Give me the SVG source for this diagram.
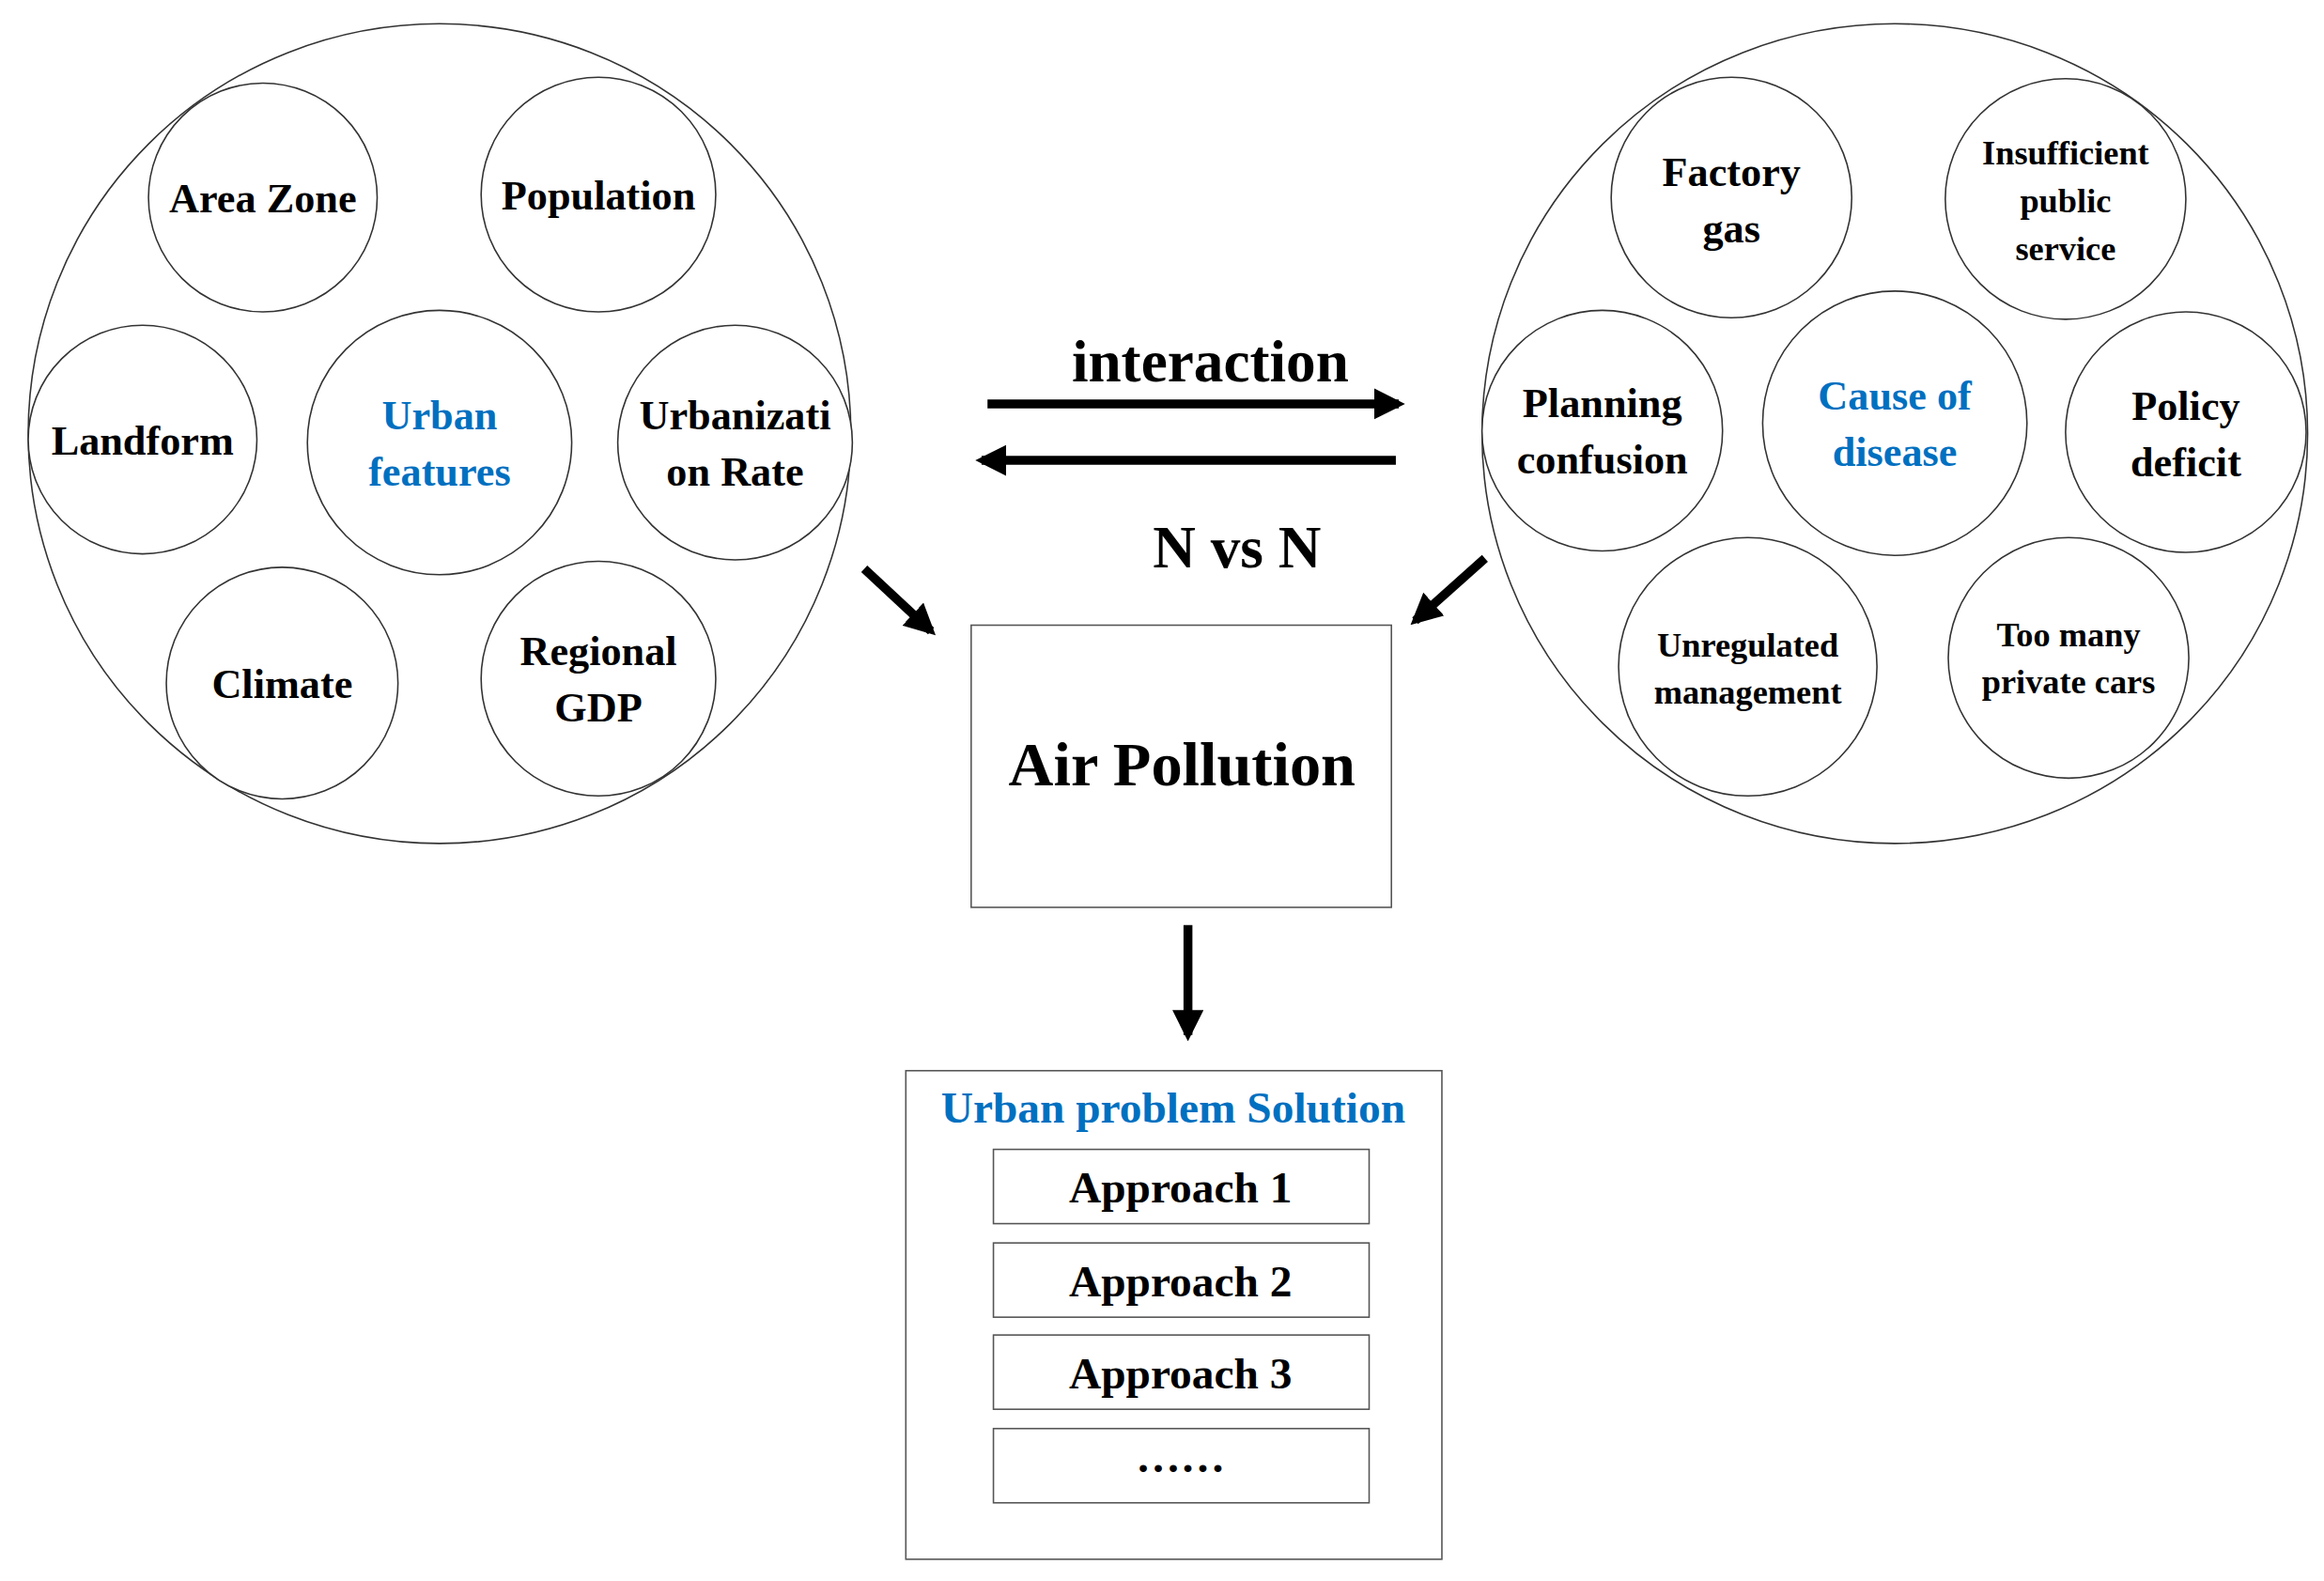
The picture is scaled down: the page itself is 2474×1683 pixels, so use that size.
<svg xmlns="http://www.w3.org/2000/svg" width="2474" height="1683" viewBox="0 0 2474 1683">
<style>
.c{fill:#fff;stroke:#333;stroke-width:1}
.t{font-family:"Liberation Serif",serif;font-weight:bold;fill:#000;text-anchor:middle}
.b{fill:#0070C0}
.a{stroke:#000;stroke-width:6;fill:none}
.r{fill:#fff;stroke:#555;stroke-width:1}
</style>
<defs><marker id="h" viewBox="0 0 10 10" refX="8" refY="5" markerWidth="3.5" markerHeight="3.5" orient="auto"><path d="M0,0L10,5L0,10z" fill="#000"/></marker></defs>
<rect width="2474" height="1683" fill="#fff"/>
<g transform="scale(1.5808)">
<g id="left">
<ellipse class="c" cx="296" cy="292" rx="277" ry="276"/>
<g id="areazone"><circle class="c" cx="177" cy="133" r="77"/><text class="t" x="177" y="143" font-size="28">Area Zone</text></g>
<g id="population"><circle class="c" cx="403" cy="131" r="79"/><text class="t" x="403" y="141" font-size="28">Population</text></g>
<g id="landform"><circle class="c" cx="96" cy="296" r="77"/><text class="t" x="96" y="306" font-size="28">Landform</text></g>
<g id="urban"><circle class="c" cx="296" cy="298" r="89"/><text class="t b" x="296" y="289" font-size="28">Urban</text><text class="t b" x="296" y="327" font-size="28">features</text></g>
<g id="urbrate"><circle class="c" cx="495" cy="298" r="79"/><text class="t" x="495" y="289" font-size="28">Urbanizati</text><text class="t" x="495" y="327" font-size="28">on Rate</text></g>
<g id="climate"><circle class="c" cx="190" cy="460" r="78"/><text class="t" x="190" y="470" font-size="28">Climate</text></g>
<g id="gdp"><circle class="c" cx="403" cy="457" r="79"/><text class="t" x="403" y="448" font-size="28">Regional</text><text class="t" x="403" y="486" font-size="28">GDP</text></g>
</g>
<g id="right">
<ellipse class="c" cx="1276" cy="292" rx="278" ry="276"/>
<g id="factory"><circle class="c" cx="1166" cy="133" r="81"/><text class="t" x="1166" y="125" font-size="28">Factory</text><text class="t" x="1166" y="163" font-size="28">gas</text></g>
<g id="insuff"><circle class="c" cx="1391" cy="134" r="81"/><text class="t" x="1391" y="111" font-size="23">Insufficient</text><text class="t" x="1391" y="143" font-size="23">public</text><text class="t" x="1391" y="175" font-size="23">service</text></g>
<g id="planning"><circle class="c" cx="1079" cy="290" r="81"/><text class="t" x="1079" y="281" font-size="28">Planning</text><text class="t" x="1079" y="319" font-size="28">confusion</text></g>
<g id="cause"><circle class="c" cx="1276" cy="285" r="89"/><text class="t b" x="1276" y="276" font-size="28">Cause of</text><text class="t b" x="1276" y="314" font-size="28">disease</text></g>
<g id="policy"><circle class="c" cx="1472" cy="291" r="81"/><text class="t" x="1472" y="283" font-size="28">Policy</text><text class="t" x="1472" y="321" font-size="28">deficit</text></g>
<g id="unreg"><circle class="c" cx="1177" cy="449" r="87"/><text class="t" x="1177" y="442" font-size="23">Unregulated</text><text class="t" x="1177" y="474" font-size="23">management</text></g>
<g id="cars"><circle class="c" cx="1393" cy="443" r="81"/><text class="t" x="1393" y="435" font-size="23">Too many</text><text class="t" x="1393" y="467" font-size="23">private cars</text></g>
</g>
<g id="connectors">
<line class="a" x1="665" y1="272" x2="942" y2="272" marker-end="url(#h)"/>
<line class="a" x1="940" y1="310" x2="661" y2="310" marker-end="url(#h)"/>
<line class="a" x1="582" y1="383" x2="627" y2="425" marker-end="url(#h)"/>
<line class="a" x1="1000" y1="376" x2="953" y2="418" marker-end="url(#h)"/>
<line class="a" x1="800" y1="623" x2="800" y2="697" marker-end="url(#h)"/>
</g>
<text class="t" x="815" y="257" font-size="40">interaction</text>
<text class="t" x="833" y="382" font-size="40">N vs N</text>
<g id="air"><rect class="r" x="654" y="421" width="283" height="190"/><text class="t" x="796" y="529" font-size="42">Air Pollution</text></g>
<g id="solution">
<rect class="r" x="610" y="721" width="361" height="329"/>
<rect x="615" y="725" width="350" height="38" fill="#fff"/>
<text class="t b" x="790" y="756" font-size="30">Urban problem Solution</text>
<g id="ap1"><rect class="r" x="669" y="774" width="253" height="50" stroke="#000"/><text class="t" x="795" y="810" font-size="30">Approach 1</text></g>
<g id="ap2"><rect class="r" x="669" y="837" width="253" height="50" stroke="#000"/><text class="t" x="795" y="873" font-size="30">Approach 2</text></g>
<g id="ap3"><rect class="r" x="669" y="899" width="253" height="50" stroke="#000"/><text class="t" x="795" y="935" font-size="30">Approach 3</text></g>
<g id="ap4"><rect class="r" x="669" y="962" width="253" height="50" stroke="#000"/><text class="t" x="795" y="991" font-size="30">……</text></g>
</g>
</g>
</svg>
